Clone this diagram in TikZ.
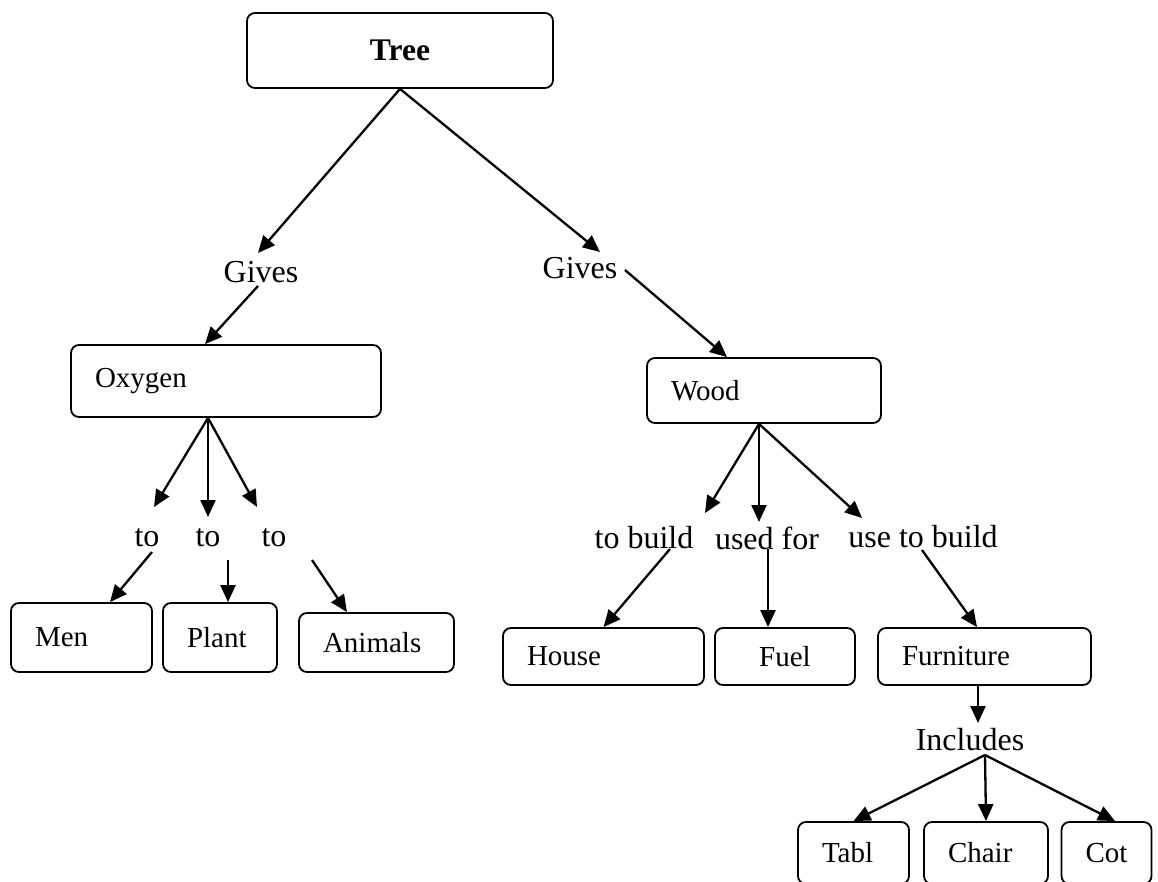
\documentclass[tikz,border=0pt]{standalone}
\usepackage{fontspec}
\setmainfont{Liberation Serif}
\usetikzlibrary{arrows.meta}

\begin{document}
\begin{tikzpicture}[x=1pt,y=-1pt,
		box/.style={draw, rounded corners=8pt, line width=1.8pt, inner xsep=24pt, inner ysep=0pt, align=left, font=\fontsize{29}{34}\selectfont},
		lbl/.style={inner sep=0pt, font=\fontsize{32}{36}\selectfont},
		arr/.style={-{Triangle[length=17pt,width=15pt]}, line width=2.3pt}]
			\useasboundingbox (0,0) rectangle (1158,882);
			% boxes
			\node[box,align=center,font=\fontsize{31.5}{36}\selectfont\bfseries,text width=258pt,minimum height=75pt] (tree) at (400,50.5) {Tree};
			\node[box,text width=262pt,minimum height=72pt] (oxy) at (226,381) {Oxygen};
			\node[box,text width=93pt,minimum height=69pt] (men) at (81.5,637.5) {Men};
			\node[box,text width=66pt,minimum height=69pt] (plant) at (220,637.5) {Plant};
			\node[box,text width=107pt,minimum height=59pt] (animals) at (376.5,642.5) {Animals};
			\node[box,text width=186pt,minimum height=65pt] (wood) at (764,390.5) {Wood};
			\node[box,text width=153pt,minimum height=57pt] (house) at (603.5,656.5) {House};
			\node[box,align=center,text width=92pt,minimum height=57pt] (fuel) at (785,656.5) {Fuel};
			\node[box,text width=165pt,minimum height=57pt] (furn) at (984.5,656.5) {Furniture};
			\node[box,text width=63pt,minimum height=62pt] (tabl) at (853.5,853) {Tabl};
			\node[box,text width=76pt,minimum height=62pt] (chair) at (986,853) {Chair};
			\node[box,text width=42pt,minimum height=62pt] (cot) at (1106.5,853) {Cot};
			% link words
			\node[lbl] (giveL) at (261,272) {Gives};
			\node[lbl] (giveR) at (580,268) {Gives};
			\node[lbl] (to1) at (147,538) {to};
			\node[lbl] (to2) at (208,538) {to};
			\node[lbl] (to3) at (274,538) {to};
			\node[lbl] (build) at (644,538) {to build};
			\node[lbl] (usedfor) at (767,538) {used for};
			\node[lbl] (usebuild) at (923,537) {use to build};
			\node[lbl] (incl) at (970,740) {Includes};
			% arrows
			\path[arr] 	(tree.south) 	edge ([shift={(-3,-19)}]giveL.center)
							edge ([shift={(20,-16)}]giveR.center)
						([shift={(-3,14)}]giveL.center) 	edge ([shift={(-21,0)}]oxy.north)
						([shift={(45,2)}]giveR.center) 	edge ([shift={(-37,0)}]wood.north)
						([shift={(-18,0)}]oxy.south) 	edge ([shift={(7,-31)}]to1.center)
							edge ([shift={(0,-21)}]to2.center)
							edge ([shift={(-17,-31)}]to3.center)
						([shift={(5,14)}]to1.center) 	edge ([shift={(28.5,0)}]men.north)
						([shift={(20,22)}]to2.center) 	edge ([shift={(8,0)}]plant.north)
						([shift={(38,22)}]to3.center) 	edge ([shift={(-29.5,0)}]animals.north)
						([shift={(-5,0)}]wood.south) 	edge ([shift={(61,-25)}]build.center)
							edge ([shift={(-8,-16)}]usedfor.center)
							edge ([shift={(-61,-19)}]usebuild.center)
						([shift={(26,11)}]build.center) 	edge (house.north)
						([shift={(1,11)}]usedfor.center) 	edge ([shift={(-17,0)}]fuel.north)
						([shift={(-1,13)}]usebuild.center) 	edge ([shift={(-7.5,0)}]furn.north)
						([shift={(-6.5,0)}]furn.south) 	edge ([shift={(8,-17)}]incl.center)
						([shift={(15,15)}]incl.center) 	edge (tabl.north)
							edge (chair.north)
							edge ([shift={(8.5,0)}]cot.north);
	\end{tikzpicture}
\end{document}
